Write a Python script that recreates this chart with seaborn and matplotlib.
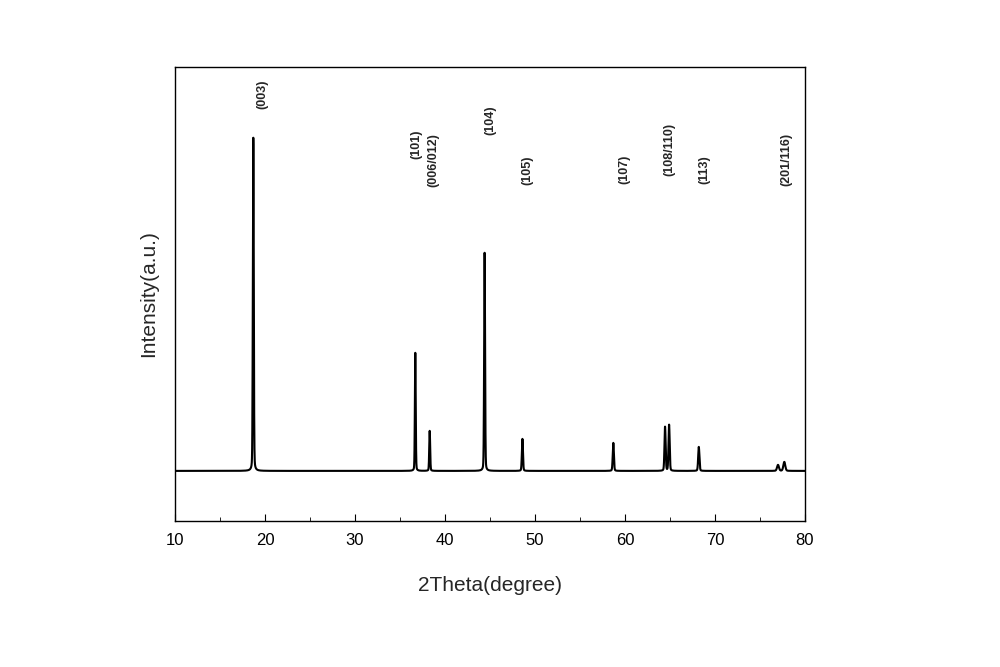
import numpy as np
import pandas as pd
import matplotlib
matplotlib.use("Agg")
import matplotlib.pyplot as plt
import seaborn as sns
from matplotlib.ticker import MultipleLocator

# peak positions (2theta) and heights above baseline
peak_pos = [18.7, 36.7, 38.3, 44.4, 48.6, 58.7, 64.45, 64.9, 68.2, 77.0, 77.7]
peak_height = [333, 118, 40, 218, 32, 28, 44, 46, 24, 6, 9]
peak_width = [0.12, 0.11, 0.12, 0.12, 0.14, 0.15, 0.15, 0.15, 0.16, 0.25, 0.25]
baseline = 50

labels = ["(003)", "(101)", "(006/012)", "(104)", "(105)", "(107)",
          "(108/110)", "(113)", "(201/116)"]
label_x = [19.7, 36.8, 38.7, 45.0, 49.1, 59.9, 64.9, 68.8, 77.9]
label_y = [426, 376, 361, 401, 351, 351, 371, 351, 361]

theta = np.linspace(10, 80, 7001)
intensity = np.full_like(theta, baseline, dtype=float)
for p, h, w in zip(peak_pos, peak_height, peak_width):
    # pseudo-Voigt: mostly gaussian, a little lorentzian
    g = np.exp(-4 * np.log(2) * ((theta - p) / w) ** 2)
    l = 1 / (1 + ((theta - p) / (w / 2)) ** 2)
    intensity += h * (0.8 * g + 0.2 * l)
df = pd.DataFrame({"theta": theta, "intensity": intensity})

sns.set_style("ticks")
plt.rcParams["font.family"] = ["Arial", "Liberation Sans", "DejaVu Sans"]
fig = plt.figure(figsize=(10, 6.67), dpi=100)
ax = fig.add_axes([0.175, 0.219, 0.63, 0.681])
sns.lineplot(data=df, x="theta", y="intensity", color="black", lw=1.5, ax=ax)

for t, x, y in zip(labels, label_x, label_y):
    ax.text(x, y, t, rotation=90, ha="center", va="center",
            fontsize=9, fontweight="bold")

ax.set_xlim(10, 80)
ax.set_ylim(0, 454)
ax.xaxis.set_major_locator(MultipleLocator(10))
ax.xaxis.set_minor_locator(MultipleLocator(5))
ax.set_yticks([])
ax.tick_params(axis="x", which="major", direction="in", length=5,
               labelsize=12, pad=9, color="black", labelcolor="black")
ax.tick_params(axis="x", which="minor", direction="in", length=3, color="black")
for s in ax.spines.values():
    s.set_linewidth(1.0)
    s.set_color("black")
ax.set_xlabel("2Theta(degree)", fontsize=15, labelpad=20)
ax.set_ylabel("Intensity(a.u.)", fontsize=15, labelpad=12)
fig.savefig("out.png", dpi=100)
